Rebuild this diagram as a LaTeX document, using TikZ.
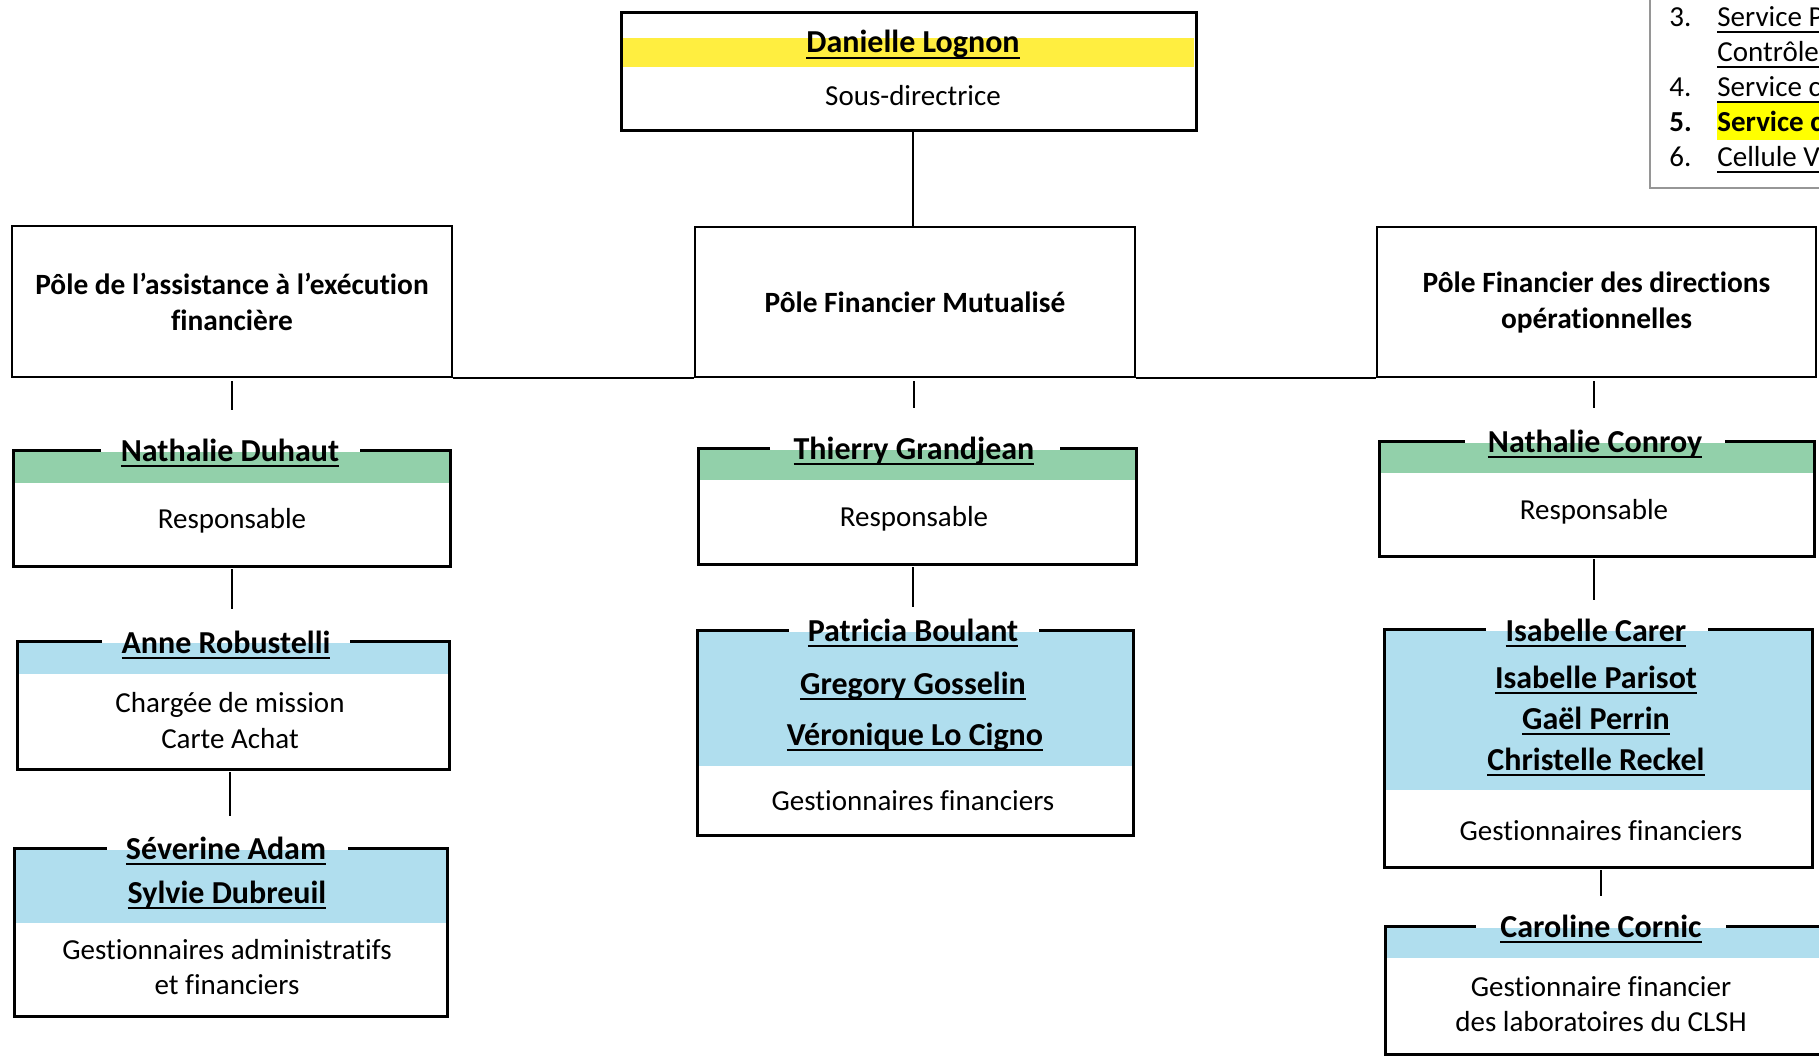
\documentclass[tikz,border=0pt]{standalone}
\usepackage{fontspec}
\setmainfont{Carlito}[Ligatures=NoCommon]
\usepackage{tikz}
\usetikzlibrary{fit}

\definecolor{pyellow}{RGB}{255,238,64}
\definecolor{pgreen}{RGB}{146,208,170}
\definecolor{pblue}{RGB}{176,222,238}
\definecolor{hlyellow}{RGB}{255,255,0}
\definecolor{listgray}{RGB}{150,150,150}

\newcommand{\uname}[1]{\setbox0=\hbox{#1}\rlap{\rule[-0.19em]{\wd0}{0.065em}}\box0}

\tikzset{
  cardline/.style={line width=1.5pt},
  stub/.style={line width=1pt},
  pole/.style={draw,line width=1pt,inner sep=0pt},
  poletext/.style={font=\bfseries\fontsize{14.7}{18}\selectfont,align=center},
  pname/.style={font=\bfseries\fontsize{16}{19}\selectfont,anchor=base,inner sep=0pt},
  prole/.style={font=\fontsize{14.5}{18}\selectfont,anchor=base,inner sep=0pt},
  listtext/.style={font=\fontsize{14.5}{18}\selectfont,anchor=base west,inner sep=0pt}
}

\begin{document}
\begin{tikzpicture}[x=0.5pt,y=-0.5pt]
  \useasboundingbox (0,0) rectangle (1819,1059);
  \clip (0,0) rectangle (1819,1059);

  % Services list (top right)
  \fill[hlyellow] (1717,103) rectangle (1830,140);
  \draw[listgray,line width=1pt] (1650,-10) |- (1830,188);
  \node[listtext] (n3) at (1669,27) {3.};
  \node[listtext] (l3) at (1717,27) {\uname{Service P}};
  \node[listtext] (l3b) at (1717,62) {\uname{Contrôle}};
  \node[listtext] (n4) at (1669,97) {4.};
  \node[listtext] (l4) at (1717,97) {\uname{Service c}};
  \node[listtext,font=\bfseries\fontsize{14.5}{18}\selectfont] (n5) at (1669,132) {5.};
  \node[listtext,font=\bfseries\fontsize{14.5}{18}\selectfont] (l5) at (1717,132) {Service c};
  \node[listtext] (n6) at (1669,167) {6.};
  \node[listtext] (l6) at (1717,167) {\uname{Cellule V}};

  % Sous-directrice
  \fill[pyellow] (623,38) rectangle (1194,67);
  \node[fit={(621,13) (1196,131)},draw,line width=1.5pt,inner sep=0pt] (lognon) {};
  \node[pname] (t-lognon) at (913,53) {\uname{Danielle Lognon}};
  \node[prole] (r-lognon) at (913,106) {Sous-directrice};

  % Poles
  \node[pole,fit={(12,226) (452,377)}] (pae) {};
  \node[pole,fit={(695,227) (1135,377)}] (pfm) {};
  \node[pole,fit={(1377,227) (1816,377)}] (pfd) {};
  \node[poletext] (t-pae) at (pae) {Pôle de l’assistance à l’exécution\\financière};
  \node[poletext] (t-pfm) at (pfm) {Pôle Financier Mutualisé};
  \node[poletext] (t-pfd) at (pfd) {Pôle Financier des directions\\opérationnelles};

  \draw[stub] (lognon.south -| t-lognon) -- (pfm.north -| t-lognon);
  \draw[stub] (pae.south east) -- (pfm.south west);
  \draw[stub] (pfm.south east) -- (pfd.south west);

  % Cards: band, frame broken under the title
  \foreach \nm/\xa/\ya/\xb/\yb/\yc/\ga/\gb/\col in {
    duhaut/13/450/450/566/483/101/360/pgreen,
    grandjean/698/448/1136/564/480/770/1060/pgreen,
    conroy/1379/441/1814/556/473/1465/1725/pgreen,
    robustelli/17/641/449/769/674/102/350/pblue,
    boulant/697/630/1133/835/766/789/1039/pblue,
    carer/1384/629/1812/867/790/1486/1708/pblue,
    adam/14/848/447/1016/923/107/348/pblue,
    cornic/1385/926/1840/1054/958/1476/1726/pblue}
  {
    \fill[\col] (\xa,\ya+2) rectangle (\xb,\yc);
    \draw[cardline] (\ga,\ya) -| (\xa,\yb) -| (\xb,\ya) -- (\gb,\ya);
    \node[fit={(\xa,\ya) (\xb,\yb)},inner sep=0pt] (\nm) {};
  }

  % Names and roles
  \node[pname] (t-duhaut) at (230,461) {\uname{Nathalie Duhaut}};
  \node[prole] (r-duhaut) at (232,528) {Responsable};
  \node[pname] (t-grandjean) at (914,459) {\uname{Thierry Grandjean}};
  \node[prole] (r-grandjean) at (914,526) {Responsable};
  \node[pname] (t-conroy) at (1595,452) {\uname{Nathalie Conroy}};
  \node[prole] (r-conroy) at (1594,519) {Responsable};

  \node[pname] (t-robustelli) at (226,653) {\uname{Anne Robustelli}};
  \node[prole] (r-robustelli) at (230,712) {Chargée de mission};
  \node[prole] (r2-robustelli) at (230,748) {Carte Achat};

  \node[pname] (t-boulant) at (913,641) {\uname{Patricia Boulant}};
  \node[pname] (t-gosselin) at (913,694) {\uname{Gregory Gosselin}};
  \node[pname] (t-locigno) at (915,745) {\uname{Véronique Lo Cigno}};
  \node[prole] (r-boulant) at (913,810) {Gestionnaires financiers};

  \node[pname] (t-carer) at (1596,641) {\uname{Isabelle Carer}};
  \node[pname] (t-parisot) at (1596,688) {\uname{Isabelle Parisot}};
  \node[pname] (t-perrin) at (1596,729) {\uname{Gaël Perrin}};
  \node[pname] (t-reckel) at (1596,770) {\uname{Christelle Reckel}};
  \node[prole] (r-carer) at (1601,840) {Gestionnaires financiers};

  \node[pname] (t-adam) at (226,859) {\uname{Séverine Adam}};
  \node[pname] (t-dubreuil) at (227,903) {\uname{Sylvie Dubreuil}};
  \node[prole] (r-adam) at (227,959) {Gestionnaires administratifs};
  \node[prole] (r2-adam) at (227,994) {et financiers};

  \node[pname] (t-cornic) at (1601,937) {\uname{Caroline Cornic}};
  \node[prole] (r-cornic) at (1601,996) {Gestionnaire financier};
  \node[prole] (r2-cornic) at (1601,1031) {des laboratoires du CLSH};

  % Stubs between levels (x taken from the text they line up with)
  \foreach \a/\b/\v/\s in {pae/duhaut/r-duhaut/20pt,pfm/grandjean/t-grandjean/20pt,
    pfd/conroy/r-conroy/16.5pt,duhaut/robustelli/r-duhaut/16pt,
    grandjean/boulant/t-boulant/11.5pt,conroy/carer/r-conroy/14.5pt,
    robustelli/adam/r-robustelli/16pt,carer/cornic/r-carer/15pt}
    \draw[stub,shorten <=1.5pt,shorten >=\s] (\a.south -| \v) -- (\b.north -| \v);
\end{tikzpicture}
\end{document}
